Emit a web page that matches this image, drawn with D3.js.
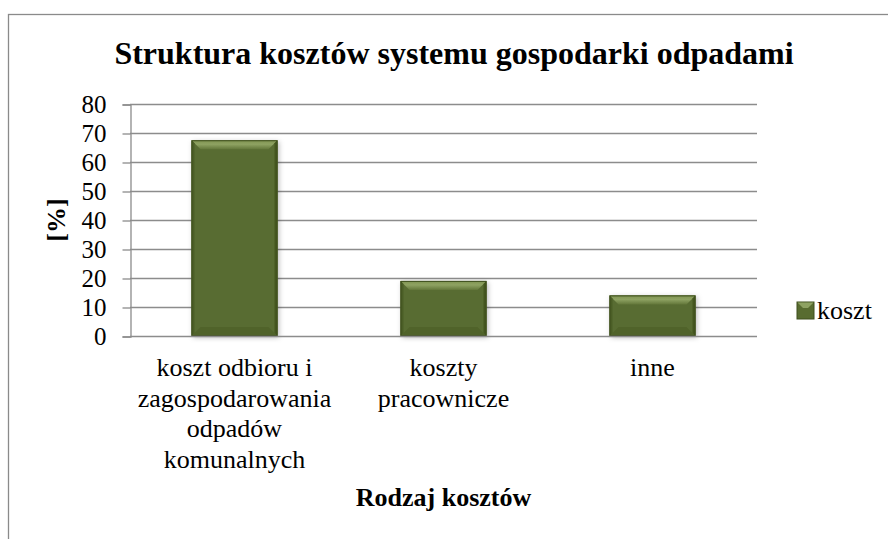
<!DOCTYPE html>
<html><head><meta charset="utf-8">
<script src="https://cdn.jsdelivr.net/npm/d3@7"></script>
</head>
<body style="margin:0">
<svg id="chart" width="888" height="539" style="font-family:'Liberation Serif',serif"></svg>
<script>
const title = "Struktura kosztów systemu gospodarki odpadami";
const categories = ["koszt odbioru i zagospodarowania odpadów komunalnych", "koszty pracownicze", "inne"];
const values = [67.5, 19, 14];
const seriesName = "koszt";
const yTicks = [0, 10, 20, 30, 40, 50, 60, 70, 80];
const xTitle = "Rodzaj kosztów";
const yTitle = "[%]";

const FONT = "Liberation Serif";
const svg = d3.select("#chart");
const L = 130, R = 757, T = 104, B = 336;

svg.append("rect").attr("x", 8.5).attr("y", 14.5).attr("width", 1000).attr("height", 1000)
  .attr("fill", "none").attr("stroke", "#8a8a8a").attr("stroke-width", 1.3);

const y = d3.scaleLinear().domain([0, 80]).range([B, T]);
const x = d3.scaleBand().domain(categories).range([L, R]).paddingInner(0.5885).paddingOuter(0.29425);

const defs = svg.append("defs");
const g1 = defs.append("linearGradient").attr("id", "topBevel").attr("x1", 0).attr("y1", 0).attr("x2", 0).attr("y2", 1);
g1.append("stop").attr("offset", "0%").attr("stop-color", "#7f9450");
g1.append("stop").attr("offset", "45%").attr("stop-color", "#8ea262");
g1.append("stop").attr("offset", "100%").attr("stop-color", "#63773a");
const f = defs.append("filter").attr("id", "shadow").attr("x", "-20%").attr("y", "-20%").attr("width", "140%").attr("height", "140%");
f.append("feDropShadow").attr("dx", 1.5).attr("dy", 1.5).attr("stdDeviation", 2.5).attr("flood-color", "#000").attr("flood-opacity", 0.28);

svg.append("g").selectAll("line").data(yTicks.filter(d => d > 0)).join("line")
  .attr("x1", L).attr("x2", R).attr("y1", d => y(d) + 0.5).attr("y2", d => y(d) + 0.5)
  .attr("stroke", "#8c8c8c").attr("stroke-width", 1.3);

const yAxis = d3.axisLeft(y).tickValues(yTicks).tickSize(8).tickPadding(16).tickFormat(d3.format("d"));
const ya = svg.append("g").attr("transform", `translate(${L + 0.5},0.5)`).call(yAxis);
ya.attr("font-family", null).attr("font-size", null);
ya.select(".domain").attr("stroke", "#8c8c8c").attr("stroke-width", 1.3);
ya.selectAll(".tick line").attr("stroke", "#8c8c8c").attr("stroke-width", 1.3);
ya.selectAll(".tick text").style("font-family", FONT).attr("font-size", 25).attr("fill", "#000").attr("dy", "0.32em");

const bw = x.bandwidth();
const bars = svg.append("g").selectAll("g").data(categories).join("g");
bars.each(function (c, i) {
  const g = d3.select(this);
  const x0 = x(c), x1 = x(c) + bw, y0 = y(values[i]), y1 = y(0);
  const b = Math.min(9, (y1 - y0) / 2);
  const s = 3;
  g.append("rect").attr("x", x0).attr("y", y0).attr("width", bw).attr("height", y1 - y0)
    .attr("fill", "#586c30").attr("filter", "url(#shadow)");
  g.append("polygon").attr("points", [[x0, y0], [x1, y0], [x1 - b, y0 + b], [x0 + b, y0 + b]].join(" "))
    .attr("fill", "url(#topBevel)");
  g.append("polygon").attr("points", [[x0, y0], [x0 + s, y0 + s], [x0 + s, y1 - s], [x0, y1]].join(" ")).attr("fill", "#4b5e26");
  g.append("polygon").attr("points", [[x1, y0], [x1 - s, y0 + s], [x1 - s, y1 - s], [x1, y1]].join(" ")).attr("fill", "#44561f");
  g.append("polygon").attr("points", [[x0, y1], [x1, y1], [x1 - b, y1 - b], [x0 + b, y1 - b]].join(" ")).attr("fill", "#4f6228").attr("opacity", 0.8);
  g.append("rect").attr("x", x0 + 0.5).attr("y", y0 + 0.5).attr("width", bw - 1).attr("height", y1 - y0 - 1)
    .attr("fill", "none").attr("stroke", "#3e4e1d").attr("stroke-width", 1);
});

svg.append("line").attr("x1", L).attr("x2", R).attr("y1", B + 0.5).attr("y2", B + 0.5)
  .attr("stroke", "#8c8c8c").attr("stroke-width", 1.3);

// category labels, wrapped to the category width (approximate Times metrics)
const lineH = 30.6;
const wrapAt = 17; // characters per line
categories.forEach(c => {
  const cx = x(c) + bw / 2;
  const t = svg.append("text").attr("text-anchor", "middle").style("font-family", FONT).attr("font-size", 26).attr("fill", "#000");
  const words = c.split(" ");
  let lines = [], cur = "";
  words.forEach(w => {
    const test = cur ? cur + " " + w : w;
    if (test.length > wrapAt && cur) { lines.push(cur); cur = w; } else cur = test;
  });
  if (cur) lines.push(cur);
  lines.forEach((ln, k) => t.append("tspan").attr("x", cx).attr("y", 376 + k * lineH).text(ln));
});

svg.append("text").attr("x", 454).attr("y", 64).attr("text-anchor", "middle")
  .style("font-family", FONT).attr("font-size", 32).attr("font-weight", "bold").text(title);
svg.append("text").attr("x", (L + R) / 2).attr("y", 506).attr("text-anchor", "middle")
  .style("font-family", FONT).attr("font-size", 26).attr("font-weight", "bold").text(xTitle);
svg.append("text").attr("transform", `translate(65,${(T + B) / 2}) rotate(-90)`).attr("text-anchor", "middle")
  .style("font-family", FONT).attr("font-size", 26).attr("font-weight", "bold").text(yTitle);

const lg = svg.append("g").attr("transform", "translate(797,302)");
lg.append("rect").attr("width", 17).attr("height", 17).attr("fill", "#586c30").attr("stroke", "#3e4e1d").attr("stroke-width", 1);
lg.append("polygon").attr("points", "0.5,0.5 16.5,0.5 11,6 6,6").attr("fill", "#8ea262");
lg.append("text").attr("x", 20).attr("y", 17).style("font-family", FONT).attr("font-size", 26).text(seriesName);
</script>
</body></html>
